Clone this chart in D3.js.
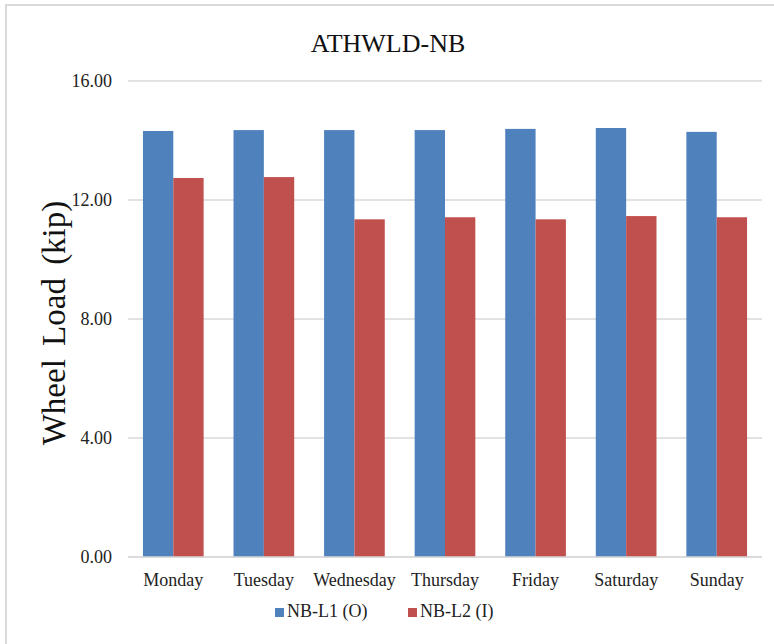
<!DOCTYPE html>
<html>
<head>
<meta charset="utf-8">
<script src="https://cdn.jsdelivr.net/npm/d3@7"></script>
<style>
  html, body { margin: 0; padding: 0; background: #fff; }
  svg { display: block; font-family: "Liberation Serif", "Times New Roman", serif; }
</style>
</head>
<body>
<svg id="chart" width="774" height="644"></svg>
<script>
// Daily average wheel load per lane
const days = ["Monday", "Tuesday", "Wednesday", "Thursday", "Friday", "Saturday", "Sunday"];
const seriesNames = ["NB-L1 (O)", "NB-L2 (I)"];
const laneL1 = [14.32, 14.35, 14.35, 14.35, 14.39, 14.42, 14.29];
const laneL2 = [12.74, 12.77, 11.35, 11.42, 11.35, 11.46, 11.42];
const yTicks = [0, 4, 8, 12, 16];
const colors = ["#4f81bd", "#c0504d"];

const rows = days.map((d, i) => ({ day: d, values: [laneL1[i], laneL2[i]] }));

const svg = d3.select("#chart");
const FONT = "Liberation Serif";

// chart frame
svg.append("rect")
  .attr("x", 6).attr("y", 5)
  .attr("width", 800).attr("height", 700)
  .attr("fill", "#fff")
  .attr("stroke", "#d9d9d9").attr("stroke-width", 2);

const plot = { left: 128, right: 762, top: 81, bottom: 557 };

const x = d3.scaleBand().domain(days).range([plot.left, plot.right]).paddingInner(0.33).paddingOuter(0.165);
const xs = d3.scaleBand().domain([0, 1]).range([0, x.bandwidth()]);
const y = d3.scaleLinear().domain([0, 16]).range([plot.bottom, plot.top]);

// gridlines
svg.append("g")
  .selectAll("line")
  .data(yTicks)
  .join("line")
  .attr("x1", plot.left).attr("x2", plot.right)
  .attr("y1", d => y(d)).attr("y2", d => y(d))
  .attr("stroke", "#d9d9d9").attr("stroke-width", 1.5);

// y axis labels
const yAxis = d3.axisLeft(y).tickValues(yTicks).tickFormat(d3.format(".2f")).tickSize(0).tickPadding(16);
const gy = svg.append("g").attr("transform", `translate(${plot.left},0)`).call(yAxis);
gy.select(".domain").remove();
gy.selectAll("text").attr("font-size", 18).attr("fill", "#222").attr("font-family", FONT);

// bars
svg.append("g")
  .selectAll("g")
  .data(rows)
  .join("g")
  .attr("transform", d => `translate(${x(d.day)},0)`)
  .selectAll("rect")
  .data(d => d.values.map((v, i) => ({ v, i })))
  .join("rect")
  .attr("x", d => xs(d.i))
  .attr("width", xs.bandwidth())
  .attr("y", d => y(d.v))
  .attr("height", d => y(0) - y(d.v))
  .attr("fill", d => colors[d.i]);

// baseline
svg.append("line")
  .attr("x1", plot.left).attr("x2", plot.right)
  .attr("y1", y(0)).attr("y2", y(0))
  .attr("stroke", "#d9d9d9").attr("stroke-width", 1.5);

// x axis labels
const xAxis = d3.axisBottom(x).tickSize(0).tickPadding(16);
const gx = svg.append("g").attr("transform", `translate(0,${plot.bottom})`).call(xAxis);
gx.select(".domain").remove();
gx.selectAll("text").attr("font-size", 18).attr("fill", "#222").attr("font-family", FONT);

// title
svg.append("text")
  .attr("x", 388).attr("y", 52)
  .attr("text-anchor", "middle")
  .attr("font-size", 26).attr("fill", "#111")
  .text("ATHWLD-NB");

// y axis title
svg.append("text")
  .attr("transform", "translate(65,323) rotate(-90)")
  .attr("text-anchor", "middle")
  .attr("font-size", 33).attr("fill", "#111")
  .attr("word-spacing", 5)
  .text("Wheel Load (kip)");

// legend
const legendPos = [275, 408];
const legend = svg.append("g")
  .selectAll("g")
  .data(seriesNames)
  .join("g")
  .attr("transform", (d, i) => `translate(${legendPos[i]},608)`);
legend.append("rect").attr("width", 9).attr("height", 9).attr("fill", (d, i) => colors[i]);
legend.append("text")
  .attr("x", 12).attr("y", 9)
  .attr("font-size", 18).attr("fill", "#222")
  .text(d => d);
</script>
</body>
</html>
